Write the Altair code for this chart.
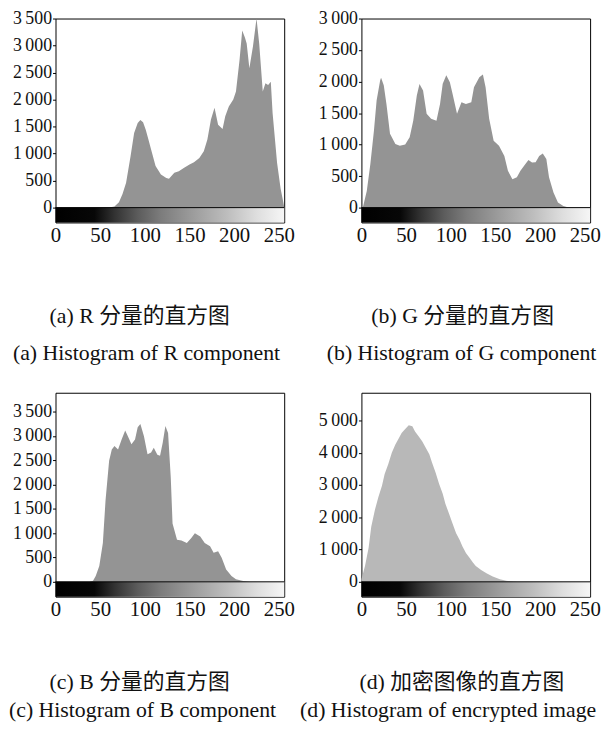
import altair as alt
import pandas as pd

# ---------------- data ----------------
R_LEVEL = [0, 60, 66, 71, 75, 79, 84, 88, 92, 95, 98, 101, 104, 107, 112, 118, 124, 127, 133, 138,
           144, 150, 155, 161, 166, 170, 174, 178, 182, 187, 190, 194, 199, 202, 206, 209, 212, 214, 217, 221,
           225, 228, 232, 235, 238, 241, 243, 248, 252, 255, 256]
R_COUNT = [0, 0, 20, 100, 250, 460, 950, 1380, 1565, 1620, 1580, 1440, 1260, 1075, 770, 615, 550, 535, 645, 675,
           740, 800, 840, 920, 1045, 1260, 1630, 1850, 1535, 1455, 1690, 1870, 2000, 2150, 2730, 3280, 3150, 3040, 2580, 2980,
           3500, 3040, 2150, 2300, 2270, 2330, 1750, 830, 350, 100, 0]

G_LEVEL = [0, 2, 6, 10, 14, 17, 21, 22, 25, 28, 32, 38, 43, 49, 54, 58, 62, 65, 69, 73,
           78, 84, 88, 91, 95, 99, 102, 107, 112, 117, 123, 126, 132, 136, 139, 143, 148, 154, 160, 164,
           169, 174, 178, 184, 187, 191, 195, 199, 203, 207, 210, 215, 220, 226, 232, 256]
G_COUNT = [0, 25, 265, 690, 1220, 1700, 2020, 2060, 1940, 1645, 1170, 1010, 980, 1000, 1115, 1380, 1780, 1960, 1860, 1490,
           1410, 1380, 1645, 1965, 2100, 1990, 1805, 1490, 1670, 1645, 1670, 1910, 2070, 2110, 1910, 1410, 1060, 980, 820, 585,
           450, 480, 585, 700, 755, 715, 720, 820, 860, 770, 480, 240, 80, 25, 0, 0]

B_LEVEL = [0, 38, 42, 45, 49, 53, 56, 60, 63, 66, 70, 74, 78, 81, 85, 89, 92, 95, 99, 103,
           107, 110, 114, 117, 120, 123, 126, 129, 131, 136, 141, 147, 152, 156, 162, 167, 173, 177, 182, 186,
           191, 197, 202, 210, 217, 256]
B_COUNT = [0, 0, 20, 120, 325, 800, 1675, 2490, 2720, 2790, 2720, 2925, 3110, 2990, 2825, 2925, 3175, 3245, 2990, 2620,
           2655, 2755, 2610, 2590, 2860, 3200, 3060, 2150, 1200, 865, 850, 800, 900, 1000, 930, 800, 730, 595, 630, 495,
           255, 120, 55, 15, 0, 0]

E_LEVEL = [0, 4, 8, 11, 15, 19, 23, 26, 30, 34, 38, 42, 45, 49, 53, 57, 60, 64, 68, 72,
           76, 79, 83, 87, 91, 94, 98, 102, 106, 110, 113, 117, 121, 125, 128, 134, 140, 147, 155, 162,
           174, 256]
E_COUNT = [80, 490, 1050, 1710, 2220, 2630, 2980, 3340, 3645, 4000, 4255, 4460, 4610, 4735, 4850, 4820, 4660, 4510, 4360, 4155,
           3950, 3695, 3390, 3035, 2730, 2420, 2115, 1810, 1505, 1300, 1100, 895, 745, 590, 490, 365, 265, 165, 80, 30,
           0, 0]

X_TICKS = [0, 50, 100, 150, 200, 250]
Y_TICKS_A = [0, 500, 1000, 1500, 2000, 2500, 3000, 3500]
Y_TICKS_B = [0, 500, 1000, 1500, 2000, 2500, 3000]
Y_TICKS_C = [0, 500, 1000, 1500, 2000, 2500, 3000, 3500]
Y_TICKS_D = [0, 1000, 2000, 3000, 4000, 5000]
Y_MAX = [3500, 3000, 3885, 5860]

CAPTIONS_ZH = ["(a) R 分量的直方图", "(b) G 分量的直方图", "(c) B 分量的直方图", "(d) 加密图像的直方图"]
CAPTIONS_EN = ["(a) Histogram of R component", "(b) Histogram of G component",
               "(c) Histogram of B component", "(d) Histogram of encrypted image"]

# ---------------- styling / layout ----------------
W, H, GB = 231, 206, 15
FONT = "Liberation Serif"
CJK = "Liberation Serif, Noto Sans CJK SC"
TXT = "#111111"

GRAD = alt.Gradient(
    gradient="linear", x1=0, x2=1, y1=0, y2=0,
    stops=[
        alt.GradientStop(color="#000000", offset=0.0),
        alt.GradientStop(color="#070707", offset=0.17),
        alt.GradientStop(color="#333333", offset=0.26),
        alt.GradientStop(color="#5c5c5c", offset=0.36),
        alt.GradientStop(color="#7c7c7c", offset=0.46),
        alt.GradientStop(color="#9c9c9c", offset=0.60),
        alt.GradientStop(color="#bdbdbd", offset=0.75),
        alt.GradientStop(color="#dedede", offset=0.88),
        alt.GradientStop(color="#f6f6f6", offset=1.0),
    ],
)

LABEL_EXPR = "replace(format(datum.value, ','), ',', '\u2009')"


def panel(levels, counts, ymax, yticks, fill, zh, en, zh_xy, en_xy):
    ymin = -ymax * GB / (H - GB)
    df = pd.DataFrame({"level": levels, "count": counts})
    xs = alt.Scale(domain=[0, 256], nice=False, zero=False)
    ys = alt.Scale(domain=[ymin, ymax], nice=False, zero=False)
    xaxis = alt.Axis(
        values=X_TICKS, title=None, grid=False, domain=False, ticks=False,
        labelPadding=2, labelFont=FONT, labelFontSize=21, labelColor=TXT,
        labelFlush=False, labelOverlap=False)
    yaxis = alt.Axis(
        values=yticks, title=None, grid=False, domain=False, tickSize=3,
        tickColor="black", labelPadding=1, labelFont=FONT, labelFontSize=18,
        labelColor=TXT, labelFlush=False, labelOverlap=False, labelExpr=LABEL_EXPR)
    area = alt.Chart(df).mark_area(color=fill, interpolate="linear", opacity=1).encode(
        x=alt.X("level:Q", scale=xs, axis=xaxis),
        y=alt.Y("count:Q", scale=ys, axis=yaxis),
        y2=alt.datum(0),
    )
    one = pd.DataFrame({"k": [0]})
    bar = alt.Chart(one).mark_rect(fill=GRAD).encode(
        x=alt.X(datum=0, scale=xs, axis=xaxis), x2=alt.datum(256),
        y=alt.Y(datum=ymin, scale=ys, axis=yaxis), y2=alt.datum(0))
    rule = alt.Chart(one).mark_rule(color="black", strokeWidth=1).encode(
        y=alt.Y(datum=0, scale=ys, axis=yaxis))
    t_zh = alt.Chart(pd.DataFrame({"t": [zh]})).mark_text(
        align="left", baseline="middle", font=CJK, fontSize=22, color=TXT).encode(
        text="t:N", x=alt.value(zh_xy[0]), y=alt.value(zh_xy[1]))
    t_en = alt.Chart(pd.DataFrame({"t": [en]})).mark_text(
        align="left", baseline="middle", font=FONT, fontSize=22, color=TXT).encode(
        text="t:N", x=alt.value(en_xy[0]), y=alt.value(en_xy[1]))
    return alt.layer(area, bar, rule, t_zh, t_en).properties(width=W, height=H)


pa = panel(R_LEVEL, R_COUNT, Y_MAX[0], Y_TICKS_A, "#949494",
           CAPTIONS_ZH[0], CAPTIONS_EN[0], (-6, 301), (-43, 338))
pb = panel(G_LEVEL, G_COUNT, Y_MAX[1], Y_TICKS_B, "#949494",
           CAPTIONS_ZH[1], CAPTIONS_EN[1], (10, 301), (-35, 338))
pc = panel(B_LEVEL, B_COUNT, Y_MAX[2], Y_TICKS_C, "#949494",
           CAPTIONS_ZH[2], CAPTIONS_EN[2], (-6, 292), (-47, 321))
pd_ = panel(E_LEVEL, E_COUNT, Y_MAX[3], Y_TICKS_D, "#b8b8b8",
            CAPTIONS_ZH[3], CAPTIONS_EN[3], (-2, 292), (-62, 321))

chart = alt.concat(pa, pb, pc, pd_, columns=2, spacing={"row": 172, "column": 78},
                   bounds="flush").properties(
    padding={"left": 0, "top": -3, "right": 0, "bottom": 0}
).configure_view(stroke="black", strokeWidth=1).configure_axis(labelOverlap=False)

chart.save("out.html", embed_options={"renderer": "svg", "actions": False})
